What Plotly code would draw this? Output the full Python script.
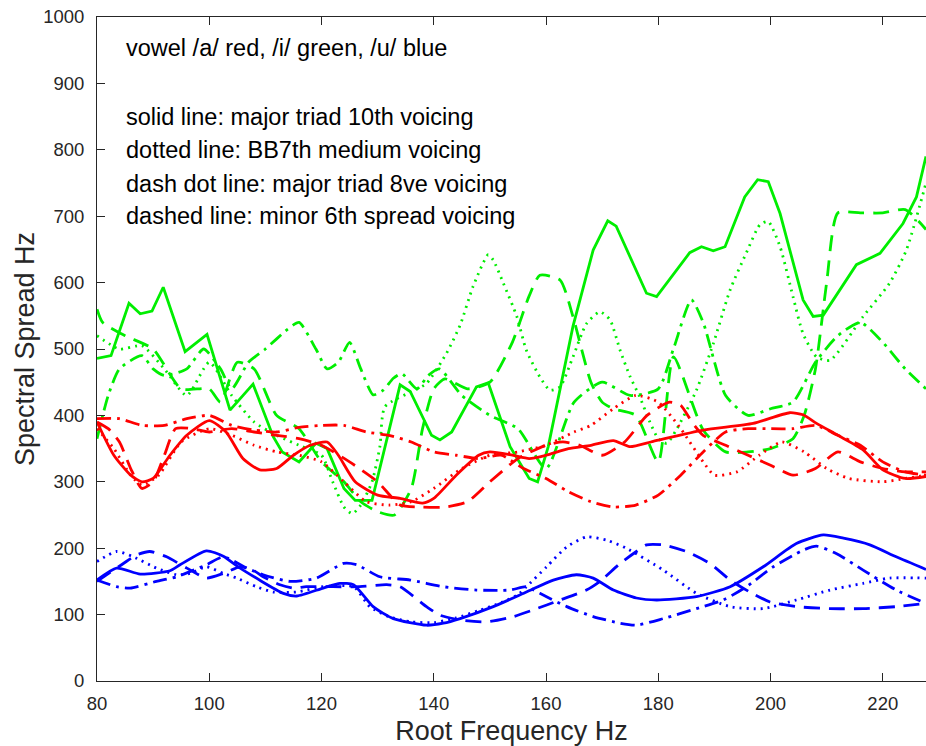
import plotly.graph_objects as go

# Spectral spread vs. root frequency, three vowels x four chord voicings

# ---- vowel /u/ (blue) ----
u_solid_x = [80, 83.5, 87.7, 93, 94.8, 99.5, 102.5, 105.5, 113.2, 115.6, 120.3, 123.3, 125.7, 129.2, 132.8, 138.7, 141.7, 144.7, 150.6, 156.5, 161.3, 165.4, 168.4, 172, 176.1, 179.7, 186.8, 192.8, 198.7, 204.6, 209.4, 213, 217.7, 222.4, 227.7]
u_solid_y = [152, 170, 161, 166, 175, 196, 188, 170, 132, 128, 140, 147, 145, 112, 94, 84, 87, 94, 112, 134, 152, 160, 155, 137, 125, 122, 127, 142, 172, 207, 220, 215, 205, 187, 168]

u_dot_x = [80, 83.5, 86.5, 90.6, 94.2, 96.6, 99.5, 102.5, 104.9, 108.4, 111.4, 115.6, 120.3, 125.7, 128.6, 132, 136, 140, 144, 148, 152, 155, 156.5, 160.1, 163.7, 167.2, 170.8, 174.3, 180.9, 186.8, 192.8, 198.7, 204.6, 210.6, 216.5, 221.2, 227.7]
u_dot_y = [180, 195, 187, 170, 160, 162, 172, 162, 155, 142, 134, 134, 142, 142, 112, 97, 89, 88, 95, 106, 118, 130, 142, 172, 202, 217, 212, 200, 167, 132, 112, 109, 122, 137, 147, 155, 155]

u_dashdot_x = [80, 83.5, 85.9, 90.6, 94.2, 99.5, 102.5, 106.7, 109.6, 114.4, 119.1, 123.9, 126.3, 130.4, 135.8, 141.7, 147.6, 153.6, 156.5, 158.9, 163.7, 168.4, 173.2, 176.1, 180.9, 186.8, 191.6, 195.7, 200.5, 205.8, 208.2, 211.7, 216.5, 222.4, 227.7]
u_dashdot_y = [152, 142, 140, 150, 157, 175, 187, 170, 160, 150, 155, 177, 175, 157, 152, 142, 137, 137, 142, 132, 112, 97, 87, 84, 94, 109, 122, 142, 172, 197, 203, 192, 167, 137, 117]

u_dash_x = [80, 84.7, 87.1, 89.4, 92.4, 96, 99.5, 102.5, 105.5, 107.8, 109.6, 112.6, 115, 117.3, 122, 126.8, 131.6, 134, 138.7, 141.1, 144.7, 149.4, 154.2, 157.7, 162.5, 167.2, 169.6, 173.2, 176.1, 177.9, 180.9, 185, 189.2, 192.8, 196.3, 199.9, 204.6, 210.6, 216.5, 222.4, 227.7]
u_dash_y = [150, 177, 190, 195, 187, 170, 155, 162, 172, 167, 157, 145, 140, 142, 142, 142, 145, 142, 112, 99, 92, 89, 97, 107, 122, 137, 150, 177, 195, 205, 205, 195, 177, 152, 134, 119, 112, 109, 109, 112, 117]

# ---- vowel /a/ (red) ----
a_solid_x = [80, 83, 86, 88, 90, 93, 96, 100, 103, 106, 109, 112, 115, 118, 121, 123, 126, 130, 134, 138, 140, 144, 148, 150, 154, 157, 160, 164, 168, 172, 174.9, 179.1, 188, 196.9, 203.4, 205.8, 208.2, 212, 216.5, 220, 224, 227.7]
a_solid_y = [390, 340, 310, 300, 305, 340, 370, 392, 375, 335, 318, 320, 340, 355, 360, 340, 300, 280, 275, 268, 275, 310, 340, 345, 340, 335, 340, 350, 355, 362, 353, 361, 378, 388, 404, 401, 388, 370, 348, 318, 305, 308]

a_dot_x = [80, 83, 86, 88, 91, 95, 100, 104, 108, 112, 116, 120, 124, 128, 132, 136, 140, 145, 150, 155, 160, 165, 168, 172, 176, 180, 184, 188, 190, 194, 198, 202, 206, 210, 214, 220, 224, 227.7]
a_dot_y = [380, 350, 310, 295, 310, 360, 380, 370, 355, 345, 340, 330, 300, 270, 265, 270, 290, 320, 340, 345, 355, 375, 385, 410, 430, 420, 380, 330, 310, 315, 340, 360, 345, 320, 305, 300, 305, 310]

a_dashdot_x = [80, 84, 88, 92, 96, 100, 104, 108, 112, 116, 120, 124, 128, 132, 136, 140, 144, 148, 152, 156, 160, 164, 168, 172, 176, 180, 184, 188, 192, 196, 200, 204, 208, 212, 216, 220, 224, 227.7]
a_dashdot_y = [395, 395, 385, 385, 395, 400, 385, 378, 375, 382, 385, 385, 375, 370, 360, 345, 340, 335, 340, 320, 305, 285, 270, 262, 265, 280, 310, 345, 375, 380, 380, 380, 385, 370, 355, 330, 315, 310]

a_dash_x = [80, 82, 84, 86, 88, 90, 92, 94, 97, 100, 104, 108, 112, 116, 120, 125, 130, 134, 138, 142, 146, 150, 155, 160, 163, 166, 170, 174, 178, 182, 184, 186, 188, 192, 196, 200, 204, 208, 212, 216, 220, 224, 227.7]
a_dash_y = [390, 380, 360, 320, 290, 300, 340, 380, 380, 375, 380, 375, 370, 365, 355, 330, 300, 265, 262, 262, 270, 300, 335, 355, 360, 355, 340, 360, 400, 420, 415, 390, 370, 355, 340, 325, 310, 320, 345, 330, 320, 315, 315]

# ---- vowel /i/ (green) ----
i_solid_x = [80, 82.5, 85.7, 87.7, 89.8, 91.8, 95.7, 99.6, 103.7, 107.8, 111.4, 113, 116, 119, 121, 124, 126, 129, 134, 135.8, 139.6, 141.1, 143.2, 147.6, 149.7, 153.6, 157, 158.5, 160.4, 164.8, 168.4, 171, 172.5, 174.9, 177.9, 179.7, 185.6, 187.7, 189.8, 191.9, 195.4, 197.7, 199.6, 201.7, 205.8, 207.6, 209.4, 215.3, 219.5, 223.6, 226, 227.7]
i_solid_y = [486, 490, 569, 553, 557, 593, 496, 522, 408, 447, 368, 345, 330, 358, 350, 290, 272, 272, 446, 436, 370, 363, 375, 443, 449, 353, 305, 300, 353, 534, 649, 693, 685, 639, 584, 579, 645, 654, 648, 654, 729, 755, 752, 704, 574, 549, 551, 627, 644, 689, 729, 790]

i_dot_x = [80, 84, 88, 92, 96, 100, 104, 108, 112, 116, 120, 122, 124, 125.5, 127, 129, 130.4, 131.3, 136.6, 138.7, 142.3, 144.7, 147, 149.7, 150.6, 152.4, 154.8, 156.5, 158.9, 160.7, 162.5, 164.8, 167.2, 169.6, 171.4, 173.2, 175, 176.7, 178.5, 180, 181.5, 183.2, 186.8, 189.8, 192.8, 195.7, 198.1, 199.6, 201.7, 204, 205.8, 208.2, 210.6, 216.5, 221.2, 224.2, 227.7]
i_dot_y = [520, 500, 505, 470, 430, 480, 430, 390, 370, 355, 340, 300, 262, 252, 265, 300, 353, 413, 438, 448, 494, 536, 594, 642, 634, 599, 549, 498, 458, 438, 443, 488, 538, 556, 544, 498, 458, 428, 390, 365, 358, 378, 438, 508, 589, 645, 687, 692, 654, 579, 523, 488, 483, 549, 599, 649, 750]

i_dashdot_x = [80, 82, 84, 88, 90, 92, 96, 99, 102, 104, 107, 110, 114, 116, 119, 121, 123, 125, 127, 129.2, 131, 132.8, 134.3, 137, 139, 141, 145, 150, 155, 160, 165, 170, 175, 180, 182.7, 185.9, 188, 192, 196, 200, 204, 208, 212, 216, 220, 224, 227.7]
i_dashdot_y = [365, 430, 470, 490, 470, 460, 470, 500, 470, 440, 480, 500, 530, 540, 500, 470, 480, 510, 470, 431, 438, 456, 463, 440, 460, 470, 430, 400, 380, 320, 420, 450, 430, 440, 500, 574, 540, 430, 400, 410, 420, 480, 520, 540, 510, 470, 440]

i_dash_x = [80, 81, 85, 90, 95, 100, 102, 105, 108, 112, 116, 120, 124, 127, 130, 133, 136, 138, 140, 142, 146, 150, 154, 157, 158.9, 162.5, 164.8, 168, 170, 172, 176, 180, 182.7, 188, 192, 196, 200, 204, 206, 208, 210, 212, 216, 220, 224, 227.7]
i_dash_y = [560, 540, 520, 500, 440, 440, 420, 480, 470, 400, 380, 330, 300, 270, 255, 250, 290, 380, 440, 455, 440, 450, 510, 580, 611, 604, 549, 450, 420, 410, 400, 330, 488, 378, 345, 345, 350, 365, 400, 470, 600, 705, 705, 705, 710, 680]

annotation_lines = [
    ("vowel /a/ red, /i/ green, /u/ blue", 953),
    ("solid line: major triad 10th voicing", 849),
    ("dotted line: BB7th medium voicing", 800),
    ("dash dot line: major triad 8ve voicing", 748),
    ("dashed line: minor 6th spread voicing", 700),
]

RED, GREEN, BLUE = "#ff0000", "#00ee00", "#0000ff"
DASH = {
    "solid": "solid",
    "dot": "2px,5px",
    "dashdot": "14px,6px,3px,6px",
    "dash": "16px,9px",
}

series = [
    (i_solid_x, i_solid_y, GREEN, "solid", "linear"),
    (i_dot_x, i_dot_y, GREEN, "dot", "spline"),
    (i_dashdot_x, i_dashdot_y, GREEN, "dashdot", "spline"),
    (i_dash_x, i_dash_y, GREEN, "dash", "spline"),
    (a_solid_x, a_solid_y, RED, "solid", "spline"),
    (a_dot_x, a_dot_y, RED, "dot", "spline"),
    (a_dashdot_x, a_dashdot_y, RED, "dashdot", "spline"),
    (a_dash_x, a_dash_y, RED, "dash", "spline"),
    (u_solid_x, u_solid_y, BLUE, "solid", "spline"),
    (u_dot_x, u_dot_y, BLUE, "dot", "spline"),
    (u_dashdot_x, u_dashdot_y, BLUE, "dashdot", "spline"),
    (u_dash_x, u_dash_y, BLUE, "dash", "spline"),
]

FONT = "Liberation Sans, Arial, sans-serif"

fig = go.Figure()
for xs, ys, col, style, shape in series:
    fig.add_trace(go.Scatter(
        x=xs, y=ys, mode="lines",
        line=dict(color=col, width=2.8, dash=DASH[style], shape=shape, smoothing=0.6),
        showlegend=False, hoverinfo="skip",
    ))

for text, yv in annotation_lines:
    fig.add_annotation(
        x=0.0326, xref="paper", y=yv, yref="y",
        text=text, showarrow=False, xanchor="left", yanchor="middle",
        font=dict(family=FONT, size=23.5, color="#000000"),
    )

axis_col = "#262626"
fig.update_layout(
    width=926, height=746,
    margin=dict(l=97, r=0, t=17, b=65),
    paper_bgcolor="white", plot_bgcolor="white",
    font=dict(family=FONT, color=axis_col),
    xaxis=dict(
        range=[80, 227.7], tickvals=[80, 100, 120, 140, 160, 180, 200, 220],
        showgrid=False, zeroline=False, showline=True, linecolor=axis_col, linewidth=1,
        mirror="ticks", ticks="inside", ticklen=8, tickcolor=axis_col,
        tickfont=dict(size=18.5, color=axis_col), ticklabelstandoff=6,
        title=dict(text="Root Frequency Hz", font=dict(size=27, color=axis_col), standoff=10),
    ),
    yaxis=dict(
        range=[0, 1000], dtick=100,
        showgrid=False, zeroline=False, showline=True, linecolor=axis_col, linewidth=1,
        ticks="inside", ticklen=8, tickcolor=axis_col,
        tickfont=dict(size=18.5, color=axis_col), ticklabelstandoff=8,
        title=dict(text="Spectral Spread Hz", font=dict(size=27, color=axis_col), standoff=0),
    ),
)

fig.write_html("out.html")
